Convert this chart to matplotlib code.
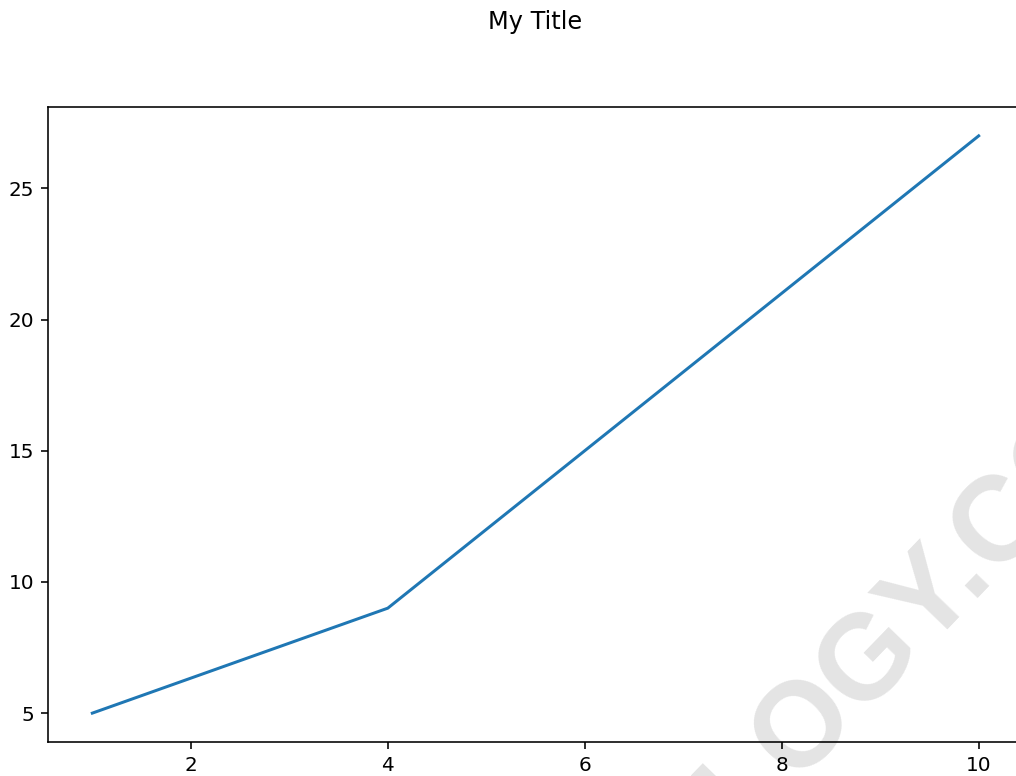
import matplotlib
matplotlib.use("Agg")
import matplotlib.pyplot as plt
from matplotlib.transforms import IdentityTransform

# data
x_values = [1, 4, 10]
y_values = [5, 9, 27]
title = "My Title"
watermark = "NOLOGY.COM"

DPI = 144
W, H = 1016, 776

fig = plt.figure(figsize=(W / DPI, H / DPI), dpi=DPI)

# axes run past the right edge, as in the cropped screenshot
left, right, top, bottom = 48, 1023, 107, 742
ax = fig.add_axes([left / W, 1 - bottom / H, (right - left) / W, (bottom - top) / H])
ax.plot(x_values, y_values, color="#1f77b4")
ax.set_xticks([2, 4, 6, 8, 10])
ax.set_yticks([5, 10, 15, 20, 25])

fig.suptitle(title, x=535 / W, y=1 - 22 / H, va="center", fontsize=12)

# faint watermark, partly cut off (pixel coords from top-left, flipped)
fig.text(618, H - 962, watermark, transform=IdentityTransform(),
         fontsize=60, fontweight="bold", color="black", alpha=0.11,
         family="Liberation Sans", rotation=46, rotation_mode="anchor",
         ha="left", va="baseline", zorder=10)

fig.savefig("out.png", dpi=DPI)
